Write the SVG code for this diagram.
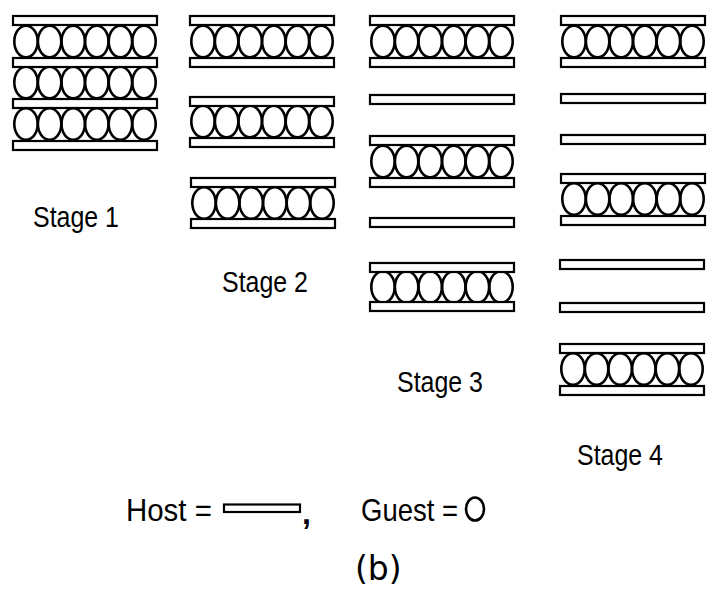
<svg xmlns="http://www.w3.org/2000/svg" xmlns:xlink="http://www.w3.org/1999/xlink" width="707" height="592" viewBox="0 0 707 592">
  <style>
    .host { fill: #fff; stroke: #000; stroke-width: 2.2; }
    .guest { fill: none; stroke: #000; stroke-width: 2.6; }
    .lbl { font-family: "Liberation Sans", Arial, sans-serif; font-size: 29px; fill: #000; }
    .key { font-family: "Liberation Sans", Arial, sans-serif; font-size: 32px; fill: #000; }
    .cap { font-family: "DejaVu Sans", "Noto Sans", sans-serif; font-size: 33px; fill: #000; }
  </style>
  <defs>
    <!-- one host sheet -->
    <rect id="sheet" class="host" x="0" y="0" width="144" height="9"/>
    <!-- a row of six guest molecules, centred on y=0 -->
    <g id="guests">
      <ellipse class="guest" cx="13" cy="0" rx="11.7" ry="15.8"/>
      <ellipse class="guest" cx="36.6" cy="0" rx="11.7" ry="15.8"/>
      <ellipse class="guest" cx="60.2" cy="0" rx="11.7" ry="15.8"/>
      <ellipse class="guest" cx="83.8" cy="0" rx="11.7" ry="15.8"/>
      <ellipse class="guest" cx="107.4" cy="0" rx="11.7" ry="15.8"/>
      <ellipse class="guest" cx="131" cy="0" rx="11.7" ry="15.8"/>
    </g>
  </defs>

  <g id="stage1">
    <use xlink:href="#guests" x="13" y="41.5"/>
    <use xlink:href="#guests" x="13" y="82.5"/>
    <use xlink:href="#guests" x="13" y="124"/>
    <use xlink:href="#sheet" x="13" y="16"/>
    <use xlink:href="#sheet" x="13" y="58"/>
    <use xlink:href="#sheet" x="13" y="99"/>
    <use xlink:href="#sheet" x="13" y="141"/>
    <text class="lbl" transform="translate(33 227) scale(0.86 1)">Stage 1</text>
  </g>

  <g id="stage2">
    <use xlink:href="#guests" x="190" y="41.5"/>
    <use xlink:href="#guests" x="190" y="121.5"/>
    <use xlink:href="#guests" x="191" y="203"/>
    <use xlink:href="#sheet" x="190" y="16"/>
    <use xlink:href="#sheet" x="190" y="58"/>
    <use xlink:href="#sheet" x="190" y="97"/>
    <use xlink:href="#sheet" x="190" y="138"/>
    <use xlink:href="#sheet" x="191" y="178"/>
    <use xlink:href="#sheet" x="191" y="219"/>
    <text class="lbl" transform="translate(222 292) scale(0.86 1)">Stage 2</text>
  </g>

  <g id="stage3">
    <use xlink:href="#guests" x="370" y="41.5"/>
    <use xlink:href="#guests" x="370" y="161.5"/>
    <use xlink:href="#guests" x="370" y="287"/>
    <use xlink:href="#sheet" x="370" y="16"/>
    <use xlink:href="#sheet" x="370" y="58"/>
    <use xlink:href="#sheet" x="370" y="95"/>
    <use xlink:href="#sheet" x="370" y="136"/>
    <use xlink:href="#sheet" x="370" y="178"/>
    <use xlink:href="#sheet" x="370" y="218"/>
    <use xlink:href="#sheet" x="370" y="263"/>
    <use xlink:href="#sheet" x="370" y="302"/>
    <text class="lbl" transform="translate(397 392) scale(0.86 1)">Stage 3</text>
  </g>

  <g id="stage4">
    <use xlink:href="#guests" x="561" y="41.5"/>
    <use xlink:href="#guests" x="561" y="199"/>
    <use xlink:href="#guests" x="560" y="369"/>
    <use xlink:href="#sheet" x="561" y="16"/>
    <use xlink:href="#sheet" x="561" y="58"/>
    <use xlink:href="#sheet" x="561" y="94"/>
    <use xlink:href="#sheet" x="561" y="135"/>
    <use xlink:href="#sheet" x="561" y="174"/>
    <use xlink:href="#sheet" x="561" y="216"/>
    <use xlink:href="#sheet" x="560" y="260"/>
    <use xlink:href="#sheet" x="560" y="303"/>
    <use xlink:href="#sheet" x="560" y="344"/>
    <use xlink:href="#sheet" x="560" y="386"/>
    <text class="lbl" transform="translate(577 465) scale(0.86 1)">Stage 4</text>
  </g>

  <g id="legend">
    <text class="key" transform="translate(126 521) scale(0.92 1)">Host =</text>
    <rect class="host" x="224" y="504.5" width="76" height="7.5" stroke-width="1.8"/>
    <text class="key" x="302" y="524" font-weight="bold">,</text>
    <text class="key" transform="translate(361 521) scale(0.86 1)">Guest =</text>
    <ellipse class="guest" cx="475" cy="509" rx="9" ry="11.5" stroke-width="1.6"/>
  </g>

  <text id="caption" class="cap" x="355" y="580">(b)</text>
</svg>
